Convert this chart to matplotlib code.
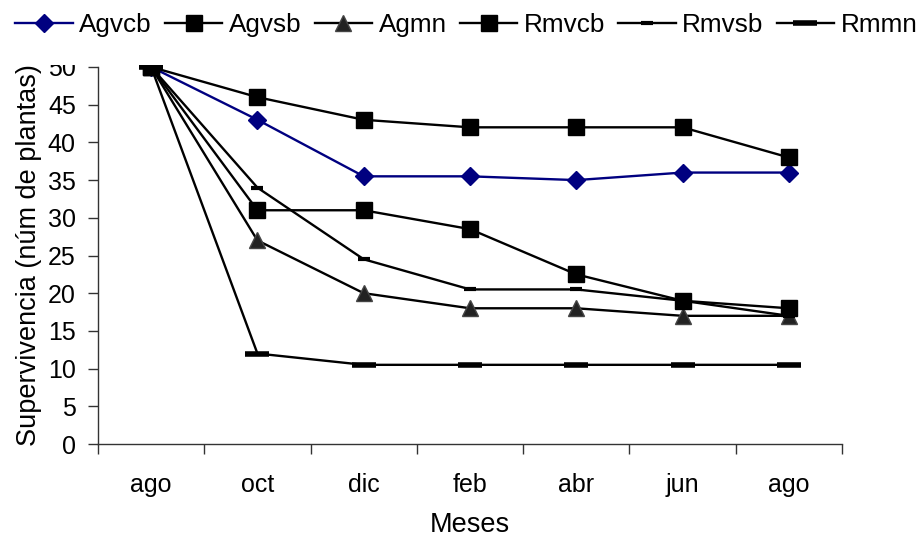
import matplotlib
matplotlib.use("Agg")
import matplotlib.pyplot as plt
import numpy as np
from matplotlib.patches import Rectangle

plt.rcParams['font.family'] = ['Liberation Sans', 'DejaVu Sans']

# Data
meses = ["ago", "oct", "dic", "feb", "abr", "jun", "ago"]
agvcb = [50, 43, 35.5, 35.5, 35, 36, 36]
agvsb = [50, 46, 43, 42, 42, 42, 38]
agmn = [50, 27, 20, 18, 18, 17, 17]
rmvcb = [50, 31, 31, 28.5, 22.5, 19, 18]
rmvsb = [50, 34, 24.5, 20.5, 20.5, 19, 17]
rmmn = [50, 12, 10.5, 10.5, 10.5, 10.5, 10.5]


def main():
    fig = plt.figure(figsize=(9.2, 5.42), dpi=100)
    ax = fig.add_axes([98 / 920, 1 - 444 / 542, 744 / 920, 377 / 542])

    x = np.arange(len(meses))
    lw = 1.7

    ax.plot(x, agvcb, color='#000080', lw=lw, marker='D', ms=9,
            mfc='#000080', mec='#000080', label='Agvcb', clip_on=False, zorder=3)
    ax.plot(x, agvsb, color='black', lw=lw, marker='s', ms=11,
            mfc='black', mec='black', label='Agvsb', clip_on=False, zorder=3)
    ax.plot(x, agmn, color='black', lw=lw, marker='^', ms=11,
            mfc='#222222', mec='#444444', label='Agmn', clip_on=False, zorder=3)
    ax.plot(x, rmvcb, color='black', lw=lw, marker='s', ms=11,
            mfc='black', mec='black', label='Rmvcb', clip_on=False, zorder=3)
    ax.plot(x, rmvsb, color='black', lw=lw, marker='_', ms=8, mew=3,
            mec='black', label='Rmvsb', clip_on=False, zorder=3)
    ax.plot(x, rmmn, color='black', lw=lw, marker='_', ms=17, mew=4,
            mec='black', label='Rmmn', clip_on=False, zorder=3)

    ax.set_xlim(-0.5, len(meses) - 0.5)
    ax.set_ylim(0, 50)
    ax.set_yticks(np.arange(0, 51, 5))

    # tick marks between categories, labels at category centers
    ax.set_xticks(np.arange(-0.5, len(meses), 1))
    ax.set_xticklabels([])
    ax.set_xticks(x, minor=True)
    ax.set_xticklabels(meses, minor=True)
    ax.tick_params(axis='x', which='major', direction='out', length=7, width=1, color='#333333')
    ax.tick_params(axis='x', which='minor', length=0, pad=21, labelsize=18)
    ax.tick_params(axis='y', direction='out', length=7, width=1, color='#333333', pad=9, labelsize=18)

    for side in ['top', 'right']:
        ax.spines[side].set_visible(False)
    for side in ['left', 'bottom']:
        ax.spines[side].set_color('#333333')
        ax.spines[side].set_linewidth(1)

    ax.set_xlabel('Meses', fontsize=19.5, labelpad=11)
    ax.set_ylabel('Supervivencia (núm de plantas)', fontsize=19.5, labelpad=4)

    # white band behind the legend covers the top of the plot area
    cover = Rectangle((0, 1 - 65 / 542), 1, 65 / 542, transform=fig.transFigure,
                      facecolor='white', edgecolor='none', zorder=5)
    fig.patches.append(cover)

    handles, labels = ax.get_legend_handles_labels()
    leg = fig.legend(handles, labels, loc='center', bbox_to_anchor=(0.507, 1 - 25 / 542),
                     ncol=6, frameon=False, fontsize=18.8, handlelength=2.2,
                     handletextpad=0.25, columnspacing=0.5, borderaxespad=0)
    leg.set_zorder(6)

    fig.savefig('out.png', dpi=100)


if __name__ == '__main__':
    main()
